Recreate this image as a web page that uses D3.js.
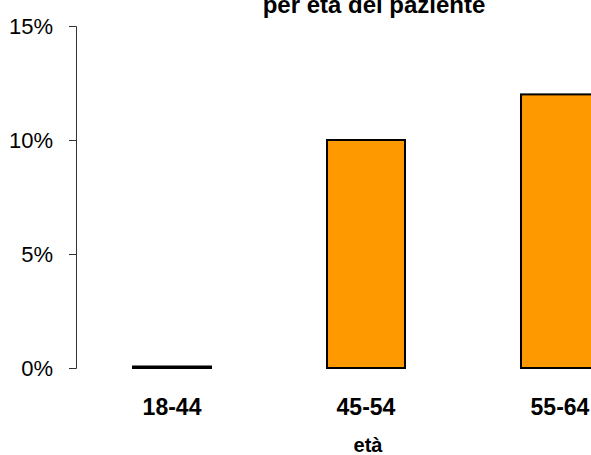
<!DOCTYPE html>
<html><head><meta charset="utf-8">
<script src="https://cdn.jsdelivr.net/npm/d3@7"></script>
<style>html,body{margin:0;padding:0;background:#fff;overflow:hidden}</style>
</head><body>
<svg id="c" width="591" height="455"></svg>
<script>
const categories = ["18-44", "45-54", "55-64"];
const values = [0, 0.10, 0.12];
const yTicks = [0, 0.05, 0.10, 0.15];
const titleText = "per età del paziente";
const xTitle = "età";

const svg = d3.select("#c");
const font = "Liberation Sans, Arial, sans-serif";

const x = d3.scaleBand().domain(categories).range([76, 656]).paddingInner(0.598).paddingOuter(0.294);
const y = d3.scaleLinear().domain([0, 0.15]).range([368, 26]);

// bars
svg.selectAll("rect.bar").data(values).join("rect")
  .attr("class", "bar")
  .attr("x", (d, i) => x(categories[i]))
  .attr("width", x.bandwidth())
  .attr("y", d => Math.min(y(d), y(0) - 1.5))
  .attr("height", d => Math.max(y(0) - y(d), 1.5))
  .attr("fill", "#FF9900")
  .attr("stroke", "#000")
  .attr("stroke-width", 2);

// y axis
const yAxis = d3.axisLeft(y).tickValues(yTicks).tickFormat(d3.format(".0%")).tickSizeOuter(0).tickSize(7).tickPadding(16);
const gy = svg.append("g").attr("transform", "translate(76,0)").call(yAxis);
gy.select(".domain").attr("stroke", "#333").attr("stroke-width", 1);
gy.selectAll(".tick line").attr("stroke", "#333");
gy.selectAll(".tick text").attr("font-family", font).attr("font-size", 22).attr("fill", "#000");

// x labels
svg.selectAll("text.cat").data(categories).join("text")
  .attr("class", "cat")
  .attr("x", d => x(d) + x.bandwidth() / 2)
  .attr("y", 415)
  .attr("text-anchor", "middle")
  .attr("font-family", font).attr("font-weight", "bold").attr("font-size", 23)
  .text(d => d);

// x title
svg.append("text").attr("x", 368).attr("y", 452).attr("text-anchor", "middle")
  .attr("font-family", font).attr("font-weight", "bold").attr("font-size", 20).text(xTitle);

// title
svg.append("text").attr("x", 374).attr("y", 13).attr("text-anchor", "middle")
  .attr("font-family", font).attr("font-weight", "bold").attr("font-size", 24).text(titleText);
</script>
</body></html>
